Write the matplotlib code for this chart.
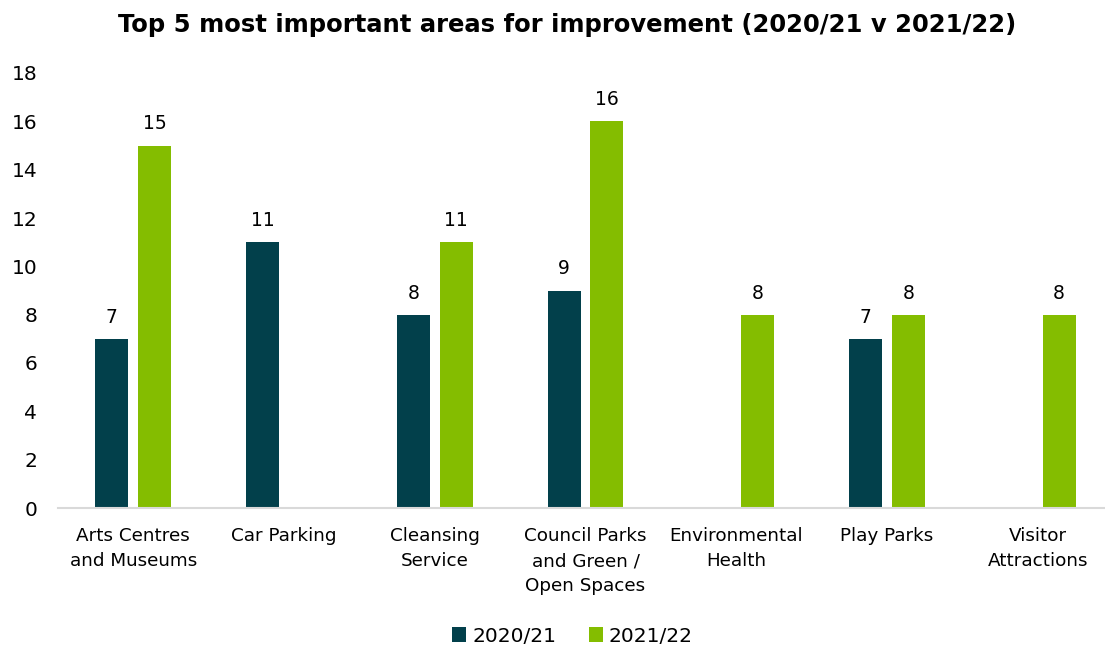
import matplotlib.pyplot as plt
import numpy as np

categories = ['Arts Centres\nand Museums', 'Car Parking', 'Cleansing\nService',
              'Council Parks\nand Green /\nOpen Spaces', 'Environmental\nHealth',
              'Play Parks', 'Visitor\nAttractions']
y2021 = [7, 11, 8, 9, 0, 7, 0]
y2022 = [15, 0, 11, 16, 8, 8, 8]
series = ['2020/21', '2021/22']
colors = ['#02404B', '#84BD00']

plt.rcParams['font.family'] = ['DejaVu Sans']

fig = plt.figure(figsize=(11.05, 6.5), dpi=100)
ax = fig.add_axes([58 / 1105, 1 - 508 / 650, 1055 / 1105, 435 / 650])

x = np.arange(len(categories))
w = 0.219
off = 0.1426
for vals, dx, c, lab in [(y2021, -off, colors[0], series[0]), (y2022, off, colors[1], series[1])]:
    bars = ax.bar(x + dx, vals, width=w, color=c, label=lab)
    for b, v in zip(bars, vals):
        if v > 0:
            ax.text(b.get_x() + b.get_width() / 2, v + 0.5, str(v), ha='center', va='bottom',
                    fontsize=13.5, color='#000000')

ax.set_xlim(-0.5, len(categories) - 0.5)
ax.set_ylim(0, 18)
ax.set_yticks(range(0, 19, 2))
ax.set_xticks(x)
ax.set_xticklabels(categories, fontsize=13.2, linespacing=1.5)
ax.tick_params(axis='y', labelsize=14.5, length=0, pad=15)
ax.tick_params(axis='x', length=0, pad=14)
for s in ['top', 'right', 'left']:
    ax.spines[s].set_visible(False)
ax.spines['bottom'].set_color('#D9D9D9')
ax.spines['bottom'].set_linewidth(1.5)

fig.text(567 / 1105, 1 - 25 / 650, 'Top 5 most important areas for improvement (2020/21 v 2021/22)',
         ha='center', va='center', fontsize=17.5, fontweight='bold')

fig.legend(loc='center', bbox_to_anchor=(0.518, 1 - 636 / 650), ncol=2, frameon=False,
           fontsize=14.5, handlelength=0.7, handleheight=0.7, handletextpad=0.3, columnspacing=1.6)

fig.savefig('out.png', dpi=100)
